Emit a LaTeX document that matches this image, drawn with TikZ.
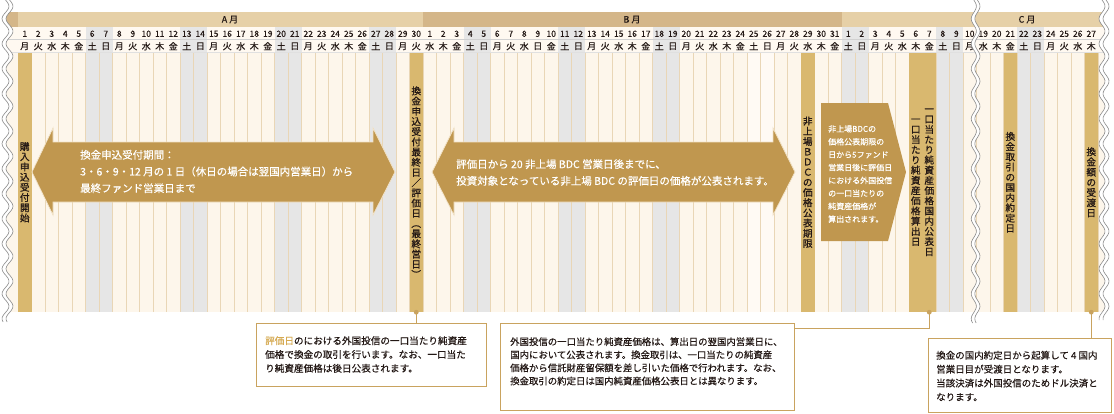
\documentclass[tikz,border=0pt]{standalone}
\usepackage{fontspec}
\setmainfont{Noto Sans CJK JP}[FakeBold=0.4]
\newfontfamily\vfont{Noto Sans CJK JP}[FakeBold=0.9]
\usetikzlibrary{calc}
\definecolor{cream}{HTML}{FDF6EB}
\definecolor{colline}{HTML}{E9D6B6}
\definecolor{wkend}{HTML}{E6E6E6}
\definecolor{whiter}{HTML}{FFFAF4}
\definecolor{hilite}{HTML}{D9B86F}
\definecolor{arrowfill}{HTML}{C0974F}
\definecolor{arrowedge}{HTML}{F2E3C8}
\definecolor{hdrA}{HTML}{E6D0A7}
\definecolor{hdrB}{HTML}{D4B689}
\definecolor{hdrrow}{HTML}{FFF9F1}
\definecolor{boxline}{HTML}{C9A35F}
\definecolor{goldtxt}{HTML}{D6AA52}
\definecolor{wavegray}{HTML}{8A8A8A}
\definecolor{txt}{HTML}{231815}
\makeatletter
\newcommand\vtxt[1]{\vbox{\baselineskip=10.2pt\lineskiplimit=-20pt\lineskip=0pt\@tfor\vch:=#1\do{\hbox to 11pt{\hss\vch\hss}}}}
\makeatother
\tikzset{
  hicol/.style={fill=hilite,minimum width=13.5pt,minimum height=259.5pt,inner sep=0pt,text=txt,font=\vfont\fontsize{9.6pt}{10.2pt}\selectfont},
  daynum/.style={inner sep=0pt,text=txt,font=\fontsize{8.5pt}{9pt}\selectfont},
  wkday/.style={inner sep=0pt,text=txt,font=\fontsize{9pt}{9pt}\selectfont},
  monlbl/.style={inner sep=0pt,text=txt,font=\fontsize{9pt}{9pt}\selectfont},
  arrowtxt/.style={inner sep=0pt,text=white,align=left,anchor=west,font=\fontsize{10.5pt}{16.7pt}\selectfont},
  pentxt/.style={inner sep=0pt,text=white,align=left,anchor=west,font=\fontsize{8pt}{12.9pt}\selectfont},
  callbox/.style={draw=boxline,line width=1.3pt,fill=white,anchor=north west,inner sep=0pt},
  calltxt/.style={inner sep=0pt,text=txt,align=left,anchor=west},
  conn/.style={draw=boxline,line width=1pt},
  wave/.style={draw=wavegray,line width=0.6pt},
  bigarrow/.style={fill=arrowfill,draw=arrowedge,line width=0.7pt}
}
\begin{document}
\begin{tikzpicture}[x=1pt,y=-1pt]
\useasboundingbox (0,0) rectangle (1114,413);
\fill[white] (0,0) rectangle (1114,413);
% header bar
\fill[hdrA] (0,12) rectangle (1106,27);
\fill[hdrB] (0,12) rectangle (18,27);
\fill[hdrB] (423,12) rectangle (841.5,27);
% day rows and body
\fill[hdrrow] (0,27) rectangle (1106,52.5);
\fill[cream] (0,52.5) rectangle (1106,312);
\foreach \i in {54,55} \fill[whiter] ({18+13.5*\i},52.5) rectangle ({31.5+13.5*\i},312);
\foreach \i in {5,6,12,13,19,20,26,27,33,34,40,41,47,48,61,62,68,69,74,75}
  \fill[wkend] ({18+13.5*\i},27) rectangle ({31.5+13.5*\i},312);
\foreach \i in {0,...,80} \draw[colline,line width=0.9pt] ({18+13.5*\i},52.5) -- ({18+13.5*\i},312);
\draw[black!18,line width=0.6pt] (0,39.7) -- (1106,39.7);
\draw[black!12,line width=0.6pt] (0,52.5) -- (1106,52.5);
% month labels
\node[monlbl] (mA) at (230,19.5) {A 月};
\node[monlbl] (mB) at (632,19.5) {B 月};
\node[monlbl] (mC) at (1027,19.5) {C 月};
% days
\foreach \d/\w [count=\i from 0] in {1/月,2/火,3/水,4/木,5/金,6/土,7/日,8/月,9/火,10/水,11/木,12/金,13/土,14/日,15/月,16/火,17/水,18/木,19/金,20/土,21/日,22/月,23/火,24/水,25/木,26/金,27/土,28/日,29/月,30/火,1/水,2/木,3/金,4/土,5/日,6/月,7/火,8/水,9/日,10/金,11/土,12/日,13/月,14/火,15/水,16/木,17/金,18/土,19/日,20/月,21/火,22/水,23/木,24/金,25/土,26/日,27/月,28/火,29/水,30/木,31/金,1/土,2/日,3/月,4/火,5/水,6/木,7/金,8/土,9/日,10/月,19/水,20/木,21/金,22/土,23/日,24/月,25/火,26/水,27/木}
{
  \node[daynum] (d\i) at ({24.75+13.5*\i},33.8) {\d};
  \node[wkday] (w\i) at ({24.75+13.5*\i},46.2) {\w};
}
% highlighted columns with vertical labels
\node[hicol] (a1) at ({24.75+13.5*0},182.25) {\raisebox{-3pt}{\vtxt{購入申込受付開始}}};
\node[hicol] (a30) at ({24.75+13.5*29},182.25) {\vtxt{換金申込受付最終日／評価日︵最終営日︶}};
\node[hicol] (b29) at ({24.75+13.5*58},182.25) {\vtxt{非上場ＢＤＣの価格公表期限}};
\node[hicol] (c6) at ({24.75+13.5*66},182.25) {\vtxt{一口当たり純資産価格算出日}};
\node[hicol] (c7) at ({24.75+13.5*67},182.25) {\vtxt{一口当たり純資産価格国内公表日}};
\node[hicol] (c21) at ({24.75+13.5*73},182.25) {\vtxt{換金取引の国内約定日}};
\node[hicol] (c27) at ({24.75+13.5*79},182.25) {\vtxt{換金額の受渡日}};
% big double arrows
\draw[bigarrow] (32,172) -- (53,128) -- (53,142) -- (373,142) -- (373,128) -- (395,172) -- (373,215) -- (373,202) -- (53,202) -- (53,215) -- cycle;
\node[arrowtxt] (t1) at (80,171.5) {換金申込受付期間：\\3・6・9・12 月の 1 日（休日の場合は翌国内営業日）から\\最終ファンド営業日まで};
\draw[bigarrow] (432,172) -- (454,128) -- (454,142) -- (773,142) -- (773,128) -- (795,172) -- (773,215) -- (773,202) -- (454,202) -- (454,215) -- cycle;
\node[arrowtxt] (t2) at (456,172.5) {評価日から 20 非上場 BDC 営業日後までに、\\投資対象となっている非上場 BDC の評価日の価格が公表されます。};
% pentagon arrow
\fill[arrowfill] (821,103) -- (888,103) -- (906,172) -- (888,241) -- (821,241) -- cycle;
\node[pentxt] (t3) at (828,174) {非上場BDCの\\価格公表期限の\\日から5ファンド\\営業日後に評価日\\における外国投信\\の一口当たりの\\純資産価格が\\算出されます。};
% wavy cuts
\fill[white] (0,0) -- plot[domain=0:322,samples=140,variable=\t] ({9.5+3.5*sin(14.4*\t)},\t) -- (0,322) -- cycle;
\draw[wave] plot[domain=0:322,samples=140,variable=\t] ({5.5+3.5*sin(14.4*\t)},\t);
\draw[wave] plot[domain=0:322,samples=140,variable=\t] ({9.5+3.5*sin(14.4*\t)},\t);
\fill[white] plot[domain=0:323,samples=140,variable=\t] ({973.8+2.6*sin(14.4*\t)},\t) -- plot[domain=323:0,samples=140,variable=\t] ({977.4+2.6*sin(14.4*\t)},\t) -- cycle;
\draw[wave] plot[domain=0:323,samples=140,variable=\t] ({973.8+2.6*sin(14.4*\t)},\t);
\draw[wave] plot[domain=0:323,samples=140,variable=\t] ({977.4+2.6*sin(14.4*\t)},\t);
\fill[white] plot[domain=0:320,samples=140,variable=\t] ({1102+3*sin(14.4*\t)},\t) -- (1114,320) -- (1114,0) -- cycle;
\draw[wave] plot[domain=0:320,samples=140,variable=\t] ({1102+3*sin(14.4*\t)},\t);
\draw[wave] plot[domain=0:320,samples=140,variable=\t] ({1106+3*sin(14.4*\t)},\t);
% callout boxes
\node[callbox,minimum width=230pt,minimum height=63pt] (box1) at (256,323) {};
\node[calltxt,font=\fontsize{9.6pt}{13.8pt}\selectfont] (bt1) at (265,354.5) {\textcolor{goldtxt}{評価日}のにおける外国投信の一口当たり純資産\\価格で換金の取引を行います。なお、一口当た\\り純資産価格は後日公表されます。};
\node[callbox,minimum width=294pt,minimum height=87pt] (box2) at (500,323) {};
\node[calltxt,font=\fontsize{9.4pt}{13.1pt}\selectfont] (bt2) at (510,361.3) {外国投信の一口当たり純資産価格は、算出日の翌国内営業日に、\\国内において公表されます。換金取引は、一口当たりの純資産\\価格から信託財産留保額を差し引いた価格で行われます。なお、\\換金取引の約定日は国内純資産価格公表日とは異なります。};
\node[callbox,minimum width=183pt,minimum height=73.5pt] (box3) at (928,338) {};
\node[calltxt,font=\fontsize{9.5pt}{13.9pt}\selectfont] (bt3) at (936,376) {換金の国内約定日から起算して 4 国内\\営業日目が受渡日となります。\\当該決済は外国投信のためドル決済と\\なります。};
% connectors
\draw[conn] (a30.south) -- (a30.south |- box1.north);
\fill[boxline] (a30.south) circle (2.4);
\draw[conn] (c7.south) |- ($(box2.north east)+(0,5)$);
\fill[boxline] (c7.south) circle (2.4);
\draw[conn] (c27.south) -- (c27.south |- box3.north);
\fill[boxline] (c27.south) circle (2.4);
\end{tikzpicture}
\end{document}
